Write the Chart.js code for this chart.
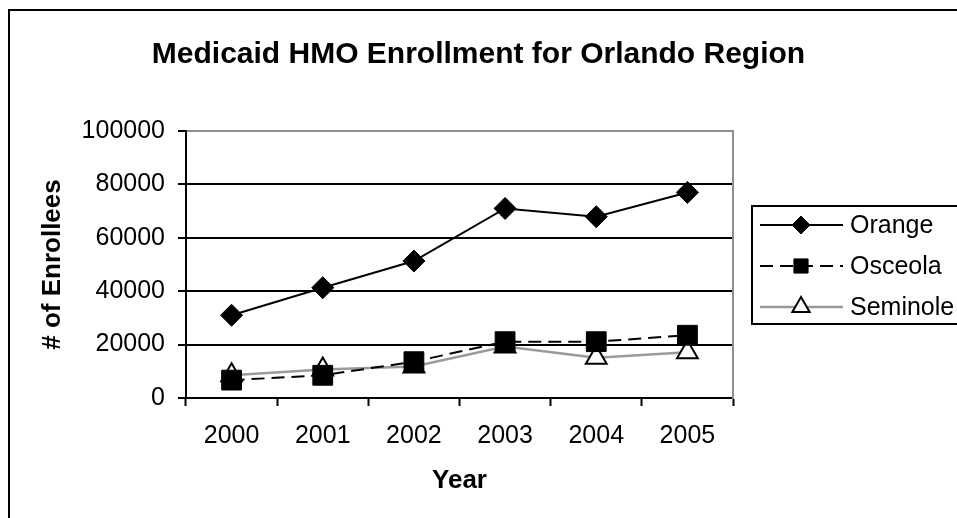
<!DOCTYPE html>
<html>
<head>
<meta charset="utf-8">
<script src="https://cdn.jsdelivr.net/npm/chart.js@4.4.0/dist/chart.umd.min.js"></script>
<style>
  html, body { margin: 0; padding: 0; background: #fff; }
  #wrap { width: 957px; height: 518px; position: relative; }
</style>
</head>
<body>
<div id="wrap"><canvas id="myChart" width="957" height="518"></canvas></div>
<script>
// data
const years = ['2000', '2001', '2002', '2003', '2004', '2005'];
const orange = [31000, 41300, 51300, 71000, 67900, 77000];
const osceola = [6700, 8500, 13600, 21100, 21100, 23500];
const seminole = [8500, 10700, 11800, 19300, 15100, 17100];
const yTicks = [0, 20000, 40000, 60000, 80000, 100000];

const fontFamily = "'Liberation Sans', Arial, sans-serif";

// outer frame of the chart (only left and top show in the picture)
const frame = {
  id: 'frame',
  beforeDraw(chart) {
    const ctx = chart.ctx;
    ctx.save();
    ctx.fillStyle = '#fff';
    ctx.fillRect(0, 0, chart.width, chart.height);
    ctx.strokeStyle = '#000';
    ctx.lineWidth = 2;
    ctx.strokeRect(9, 10, 1000, 600);
    ctx.restore();
  }
};

// legend with a line sample and marker, Excel style
const lineLegend = {
  id: 'lineLegend',
  afterDraw(chart) {
    const ctx = chart.ctx;
    const boxLeft = 752, boxTop = 206, boxBottom = 324;
    ctx.save();
    ctx.strokeStyle = '#000';
    ctx.lineWidth = 2;
    ctx.strokeRect(boxLeft, boxTop, 400, boxBottom - boxTop);
    const sizes = [9, 10, 10];
    chart.data.datasets.forEach((ds, i) => {
      const y = 225 + i * 41;
      ctx.save();
      ctx.strokeStyle = ds.borderColor;
      ctx.lineWidth = ds.borderWidth;
      ctx.setLineDash(ds.borderDash || []);
      ctx.beginPath();
      ctx.moveTo(760, y);
      ctx.lineTo(843, y);
      ctx.stroke();
      ctx.restore();
      ctx.save();
      ctx.fillStyle = ds.pointBackgroundColor;
      ctx.strokeStyle = ds.pointBorderColor;
      ctx.lineWidth = ds.pointBorderWidth;
      Chart.helpers.drawPoint(ctx, {pointStyle: ds.pointStyle, radius: sizes[i], borderWidth: ds.pointBorderWidth, rotation: 0}, 801, y);
      ctx.restore();
      ctx.fillStyle = '#000';
      ctx.font = '25px ' + fontFamily;
      ctx.textBaseline = 'middle';
      ctx.fillText(ds.label, 850, y + 1);
    });
    ctx.restore();
  }
};

const ctx = document.getElementById('myChart').getContext('2d');
const myChart = new Chart(ctx, {
  type: 'line',
  data: {
    labels: years,
    datasets: [
      {
        label: 'Orange',
        data: orange,
        borderColor: '#000',
        borderWidth: 2,
        pointStyle: 'rectRot',
        pointRadius: 11,
        pointBackgroundColor: '#000',
        pointBorderColor: '#000',
        pointBorderWidth: 1,
        tension: 0
      },
      {
        label: 'Osceola',
        data: osceola,
        borderColor: '#000',
        borderWidth: 2,
        borderDash: [13, 7],
        pointStyle: 'rect',
        pointRadius: 14,
        pointBackgroundColor: '#000',
        pointBorderColor: '#000',
        pointBorderWidth: 1,
        tension: 0
      },
      {
        label: 'Seminole',
        data: seminole,
        borderColor: '#9a9a9a',
        borderWidth: 2.5,
        pointStyle: 'triangle',
        pointRadius: 12,
        pointBackgroundColor: '#fff',
        pointBorderColor: '#000',
        pointBorderWidth: 2,
        tension: 0
      }
    ]
  },
  options: {
    responsive: false,
    animation: false,
    layout: { padding: 0 },
    plugins: {
      legend: { display: false },
      tooltip: { enabled: false },
      title: {
        display: true,
        text: 'Medicaid HMO Enrollment for Orlando Region',
        color: '#000',
        font: { size: 30, weight: 'bold', family: fontFamily },
        padding: { top: 37, bottom: 58 }
      }
    },
    scales: {
      x: {
        offset: true,
        afterFit: (scale) => { scale.height = 120; },
        grid: {
          offset: true,
          drawOnChartArea: false,
          drawTicks: true,
          tickLength: 8,
          tickColor: '#000',
          tickWidth: 2
        },
        border: { color: '#000', width: 2 },
        ticks: {
          color: '#000',
          padding: 15,
          maxRotation: 0,
          font: { size: 25, family: fontFamily }
        },
        title: {
          display: true,
          text: 'Year',
          color: '#000',
          font: { size: 26, weight: 'bold', family: fontFamily },
          padding: { top: 0, bottom: 22 }
        }
      },
      y: {
        min: 0,
        max: 100000,
        afterFit: (scale) => { scale.width = 186; },
        afterBuildTicks: (scale) => { scale.ticks = yTicks.map(v => ({ value: v })); },
        grid: {
          color: (c) => (c.tick && c.tick.value === 100000 ? '#8f8f8f' : '#000'),
          lineWidth: 2,
          tickLength: 8,
          tickColor: '#000',
          tickWidth: 2
        },
        border: { color: '#000', width: 2 },
        ticks: {
          color: '#000',
          padding: 13,
          callback: (v) => String(v),
          font: { size: 25, family: fontFamily }
        },
        title: {
          display: true,
          text: '# of Enrollees',
          color: '#000',
          font: { size: 26, weight: 'bold', family: fontFamily },
          padding: { top: 37, bottom: 0 }
        }
      },
      y2: {
        position: 'right',
        min: 0,
        max: 100000,
        afterFit: (scale) => { scale.width = 224; },
        grid: { drawOnChartArea: false, drawTicks: false },
        border: { color: '#8f8f8f', width: 2 },
        ticks: { display: false }
      }
    }
  },
  plugins: [frame, lineLegend]
});
</script>
</body>
</html>
